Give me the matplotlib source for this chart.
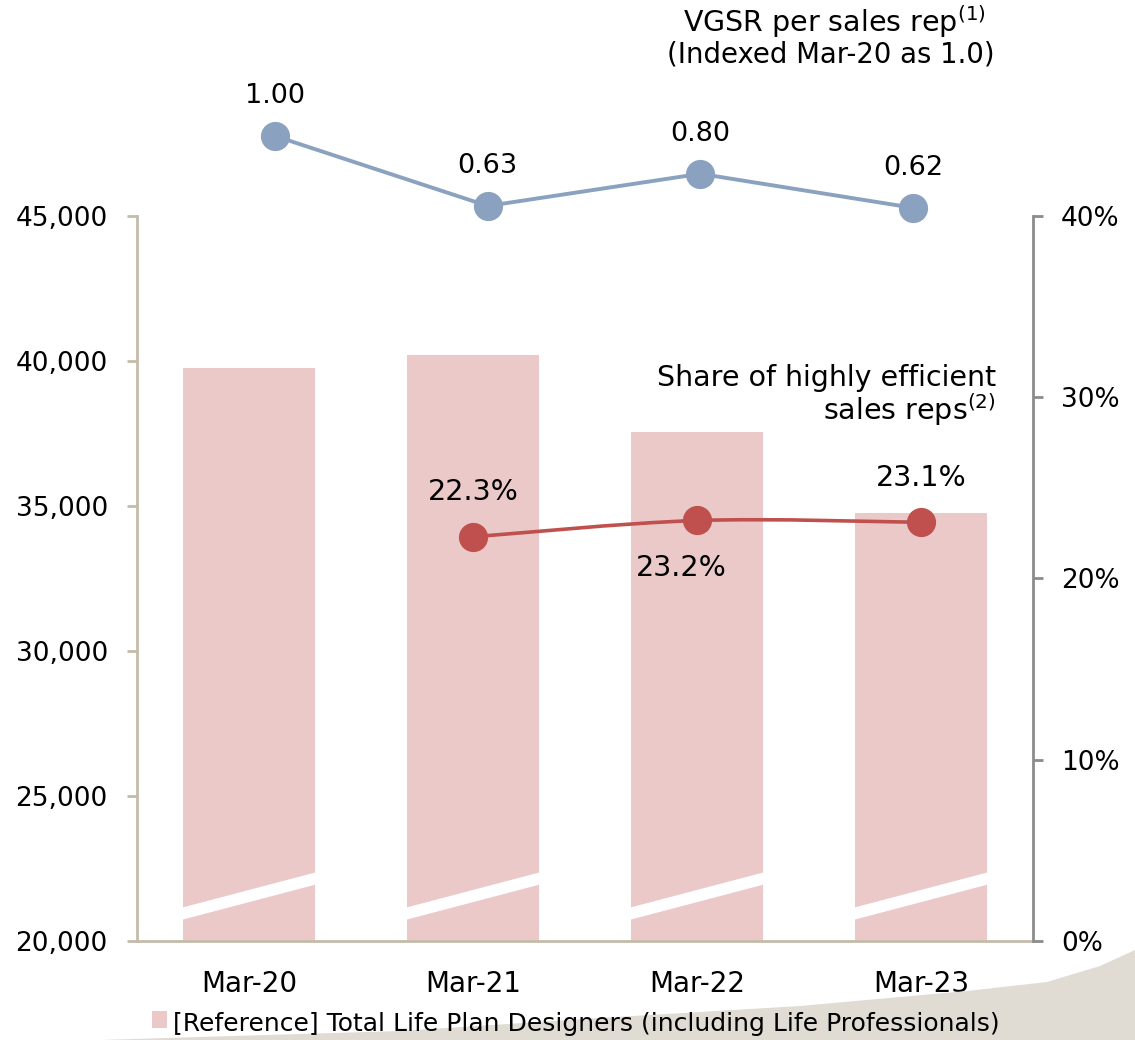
import matplotlib
matplotlib.use("Agg")
import matplotlib.pyplot as plt
from matplotlib.patches import Polygon, Rectangle, PathPatch
from matplotlib.path import Path
from matplotlib.ticker import FuncFormatter
import numpy as np

# ---- data ----
categories = ["Mar-20", "Mar-21", "Mar-22", "Mar-23"]
designers = [39750, 40200, 37550, 34750]          # left axis (bars)
share_cats = ["Mar-21", "Mar-22", "Mar-23"]
share_pct = [22.3, 23.2, 23.1]                     # right axis (%)
vgsr_index = [1.00, 0.63, 0.80, 0.62]              # top line
left_ticks = [20000, 25000, 30000, 35000, 40000, 45000]
right_ticks = [0, 10, 20, 30, 40]

BAR = "#ebc9c9"
BLUE = "#8aa2bf"
RED = "#c0504d"
TAN = "#c4bcab"
GREY = "#8c8c8c"
FS = 19
FS_TXT = 20.5

plt.rcParams['font.family'] = ['DejaVu Sans']
plt.rcParams['mathtext.fontset'] = 'dejavusans'

W, H = 1135, 1040
fig = plt.figure(figsize=(W / 100, H / 100), dpi=100)

# decorative swoosh at bottom right
sw = np.array([(100, 1040), (400, 1031), (600, 1018), (800, 1006), (967, 991),
               (1047, 982), (1100, 966), (1135, 950), (1135, 1040)], float)
sw[:, 0] /= W
sw[:, 1] = 1 - sw[:, 1] / H
fig.patches.append(Polygon(sw, closed=True, transform=fig.transFigure,
                           facecolor="#e0dcd4", edgecolor="none", zorder=0))

ax = fig.add_axes([137 / W, 1 - 941 / H, (1033 - 137) / W, (941 - 216) / H])
ax.set_facecolor("none")
x = np.arange(len(categories))
bw = 0.59
ax.bar(x, designers, width=bw, color=BAR, zorder=2)
ax.set_xlim(-0.5, len(categories) - 0.5)
ax.set_ylim(left_ticks[0], left_ticks[-1])
ax.set_yticks(left_ticks)
ax.yaxis.set_major_formatter(FuncFormatter(lambda v, p: f"{int(v):,}"))
ax.set_xticks(x)
ax.set_xticklabels(categories)
ax.tick_params(axis="x", length=0, pad=21, labelsize=20)
ax.tick_params(axis="y", length=7, width=2, color=TAN, pad=14, labelsize=FS)
for s in ["top", "right"]:
    ax.spines[s].set_visible(False)
ax.spines["left"].set_color(TAN)
ax.spines["left"].set_linewidth(2)
ax.spines["bottom"].set_color(TAN)
ax.spines["bottom"].set_linewidth(2)

# axis-break white stripes across bars
y0, y1, th = 20950, 22150, 420
for xi in x:
    xl, xr = xi - bw / 2, xi + bw / 2
    ax.add_patch(Polygon([(xl, y0 - th / 2), (xr, y1 - th / 2), (xr, y1 + th / 2), (xl, y0 + th / 2)],
                         closed=True, facecolor="white", edgecolor="none", zorder=3))

# right axis
ax2 = ax.twinx()
ax2.set_ylim(right_ticks[0], right_ticks[-1])
ax2.set_yticks(right_ticks)
ax2.yaxis.set_major_formatter(FuncFormatter(lambda v, p: f"{int(v)}%"))
ax2.tick_params(axis="y", length=7, width=2, color=GREY, pad=13, labelsize=FS)
for s in ["top", "left", "bottom"]:
    ax2.spines[s].set_visible(False)
ax2.spines["right"].set_color(GREY)
ax2.spines["right"].set_linewidth(2)

# smoothed share line (Bezier through the data points)
sx = np.array([categories.index(c) for c in share_cats], float)
sy = np.array(share_pct, float)
P = np.column_stack([sx, sy])
Pext = np.vstack([P[0], P, P[-1]])
verts = [tuple(P[0])]
codes = [Path.MOVETO]
for i in range(len(P) - 1):
    p0, p1, p2, p3 = Pext[i], Pext[i + 1], Pext[i + 2], Pext[i + 3]
    c1 = p1 + (p2 - p0) / 6
    c2 = p2 - (p3 - p1) / 6
    verts += [tuple(c1), tuple(c2), tuple(p2)]
    codes += [Path.CURVE4] * 3
ax2.add_patch(PathPatch(Path(verts, codes), facecolor="none", edgecolor=RED, lw=2.6, zorder=4))
ax2.plot(sx, sy, ls="none", color=RED, marker="o", ms=20, zorder=5)
label_off = [32, -34, 32]
for xi, v, off in zip(sx, sy, label_off):
    dx = -0.07 if off < 0 else 0.0
    ax2.annotate(f"{v:.1f}%", (xi + dx, v), xytext=(0, off),
                 textcoords="offset points", ha="center", va="center", fontsize=FS_TXT)

ax2.text(996 / W, 1 - 378 / H, "Share of highly efficient", transform=fig.transFigure,
         ha="right", va="center", fontsize=FS_TXT)
ax2.text(996 / W, 1 - 410 / H, "sales reps$^{(2)}$", transform=fig.transFigure,
         ha="right", va="center", fontsize=FS_TXT)

# top VGSR line axes
left_px, right_px = 275 - 212.67 / 2, 913 + 212.67 / 2
ax3 = fig.add_axes([left_px / W, 1 - 240 / H, (right_px - left_px) / W, 180 / H])
ax3.set_facecolor("none")
ax3.axis("off")
ax3.set_xlim(-0.5, len(categories) - 0.5)
ax3.set_ylim(1 - (240 - 136) / 189, 1 + (136 - 60) / 189)
ax3.plot(x, vgsr_index, color=BLUE, lw=2.8, marker="o", ms=20, zorder=5, clip_on=False)
for xi, v in zip(x, vgsr_index):
    ax3.annotate(f"{v:.2f}", (xi, v), xytext=(0, 29), textcoords="offset points",
                 ha="center", va="center", fontsize=19.5)

fig.text(834 / W, 1 - 22 / H, "VGSR per sales rep$^{(1)}$", ha="center", va="center", fontsize=FS_TXT)
fig.text(831 / W, 1 - 55 / H, "(Indexed Mar-20 as 1.0)", ha="center", va="center", fontsize=19.8)

# legend
fig.patches.append(Rectangle((152 / W, 1 - 1028 / H), 15 / W, 17 / H, transform=fig.transFigure,
                             facecolor=BAR, edgecolor="none"))
fig.text(173 / W, 1 - 1024 / H, "[Reference] Total Life Plan Designers (including Life Professionals)",
         ha="left", va="center", fontsize=18)

fig.savefig("out.png", dpi=100)
